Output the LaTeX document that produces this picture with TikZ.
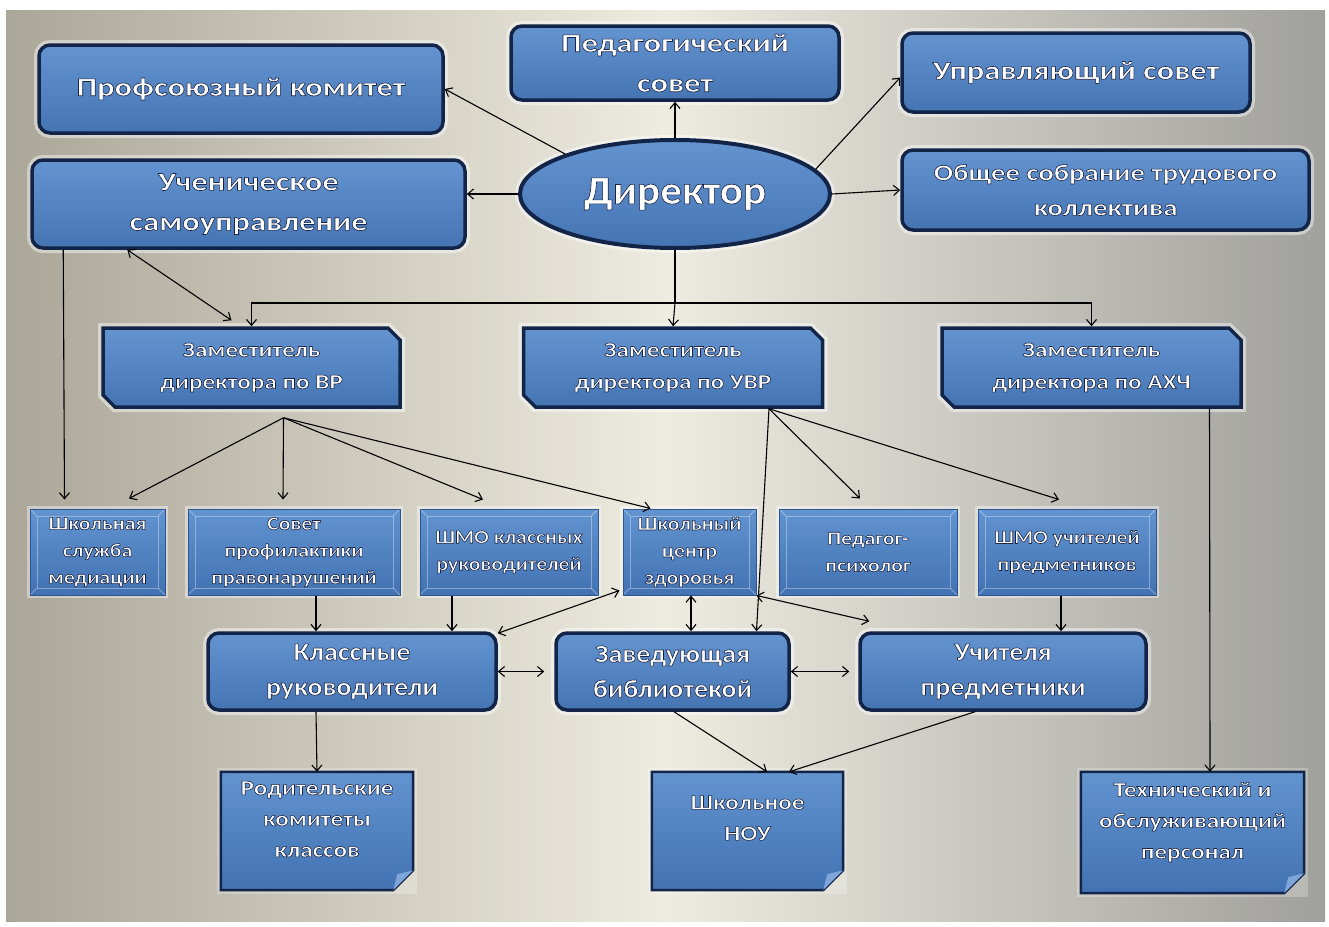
\documentclass[tikz,border=0pt]{standalone}
\usepackage{fontspec}
\setmainfont{Carlito}
\newfontfamily\fA{Carlito}[FakeStretch=1.25]
\newfontfamily\fB{Carlito}[FakeStretch=1.2]
\newfontfamily\fC{Carlito}[FakeStretch=1.15]
\newfontfamily\fD{Carlito}[FakeStretch=1.12]
\newfontfamily\fE{Carlito}[FakeStretch=1.08]
\usetikzlibrary{shapes.geometric,shapes.misc,arrows.meta,calc}
\definecolor{bgl}{RGB}{238,235,224}
\definecolor{bgd}{RGB}{170,166,152}
\definecolor{bgr}{RGB}{160,160,156}
\definecolor{navy}{RGB}{18,36,72}
\definecolor{bxl}{RGB}{100,148,208}
\definecolor{bxd}{RGB}{68,116,178}
\definecolor{sbl}{RGB}{98,148,208}
\definecolor{sbd}{RGB}{66,114,178}
\definecolor{sbe}{RGB}{45,85,145}
\definecolor{fold}{RGB}{125,165,218}
\pgfdeclarelayer{back}
\pgfdeclarelayer{bg}
\pgfsetlayers{back,bg,main}
\tikzset{
  >={Straight Barb[length=6pt,width=10pt]},
  ot/.style={execute at begin node={\special{pdf:literal direct 1 1 1 rg 0.1 0.14 0.28 RG 0.6 w 2 Tr}},
             execute at end node={\special{pdf:literal direct 0 Tr}}},
  rbox/.style={draw=navy, line width=3.5pt, rounded corners=11pt, top color=bxl, bottom color=bxd,
               align=center, inner sep=0pt, ot,
               preaction={draw=white, line width=10pt, opacity=.45},
               font={\fA\bfseries\fontsize{26}{40}\selectfont}},
  dbox/.style={ellipse, draw=navy, line width=4pt, top color=bxl, bottom color=bxd,
               inner sep=0pt, ot,
               preaction={draw=white, line width=10pt, opacity=.45},
               font={\fE\bfseries\fontsize{40}{48}\selectfont}},
  zbox/.style={chamfered rectangle, chamfered rectangle corners={north east,south west},
               chamfered rectangle xsep=6pt, chamfered rectangle ysep=6pt,
               draw=navy, line width=3.5pt, top color=bxl, bottom color=bxd,
               align=center, inner sep=0pt, ot,
               preaction={draw=white, line width=10pt, opacity=.45},
               font={\fB\bfseries\fontsize{21}{32}\selectfont}},
  sbox/.style={draw=sbe, line width=1pt, top color=sbl, bottom color=sbd,
               align=center, inner sep=0pt, ot,
               preaction={draw=white, line width=6pt, opacity=.4},
               path picture={
                 \draw[white, opacity=.35, line width=1pt]
                   ([xshift=7pt,yshift=-7pt]path picture bounding box.north west) rectangle
                   ([xshift=-7pt,yshift=7pt]path picture bounding box.south east);
                 \draw[white, opacity=.35, line width=1pt]
                   (path picture bounding box.north west) -- ([xshift=7pt,yshift=-7pt]path picture bounding box.north west)
                   (path picture bounding box.north east) -- ([xshift=-7pt,yshift=-7pt]path picture bounding box.north east)
                   (path picture bounding box.south west) -- ([xshift=7pt,yshift=7pt]path picture bounding box.south west)
                   (path picture bounding box.south east) -- ([xshift=-7pt,yshift=7pt]path picture bounding box.south east);},
               font={\fC\bfseries\fontsize{19}{27}\selectfont}},
  fbox/.style={align=center, inner sep=0pt, ot, text depth=24pt,
               font={\fB\bfseries\fontsize{21}{31}\selectfont}},
  con/.style={draw=black, line width=1.1pt, ->},
  dcon/.style={draw=black, line width=1.1pt, <->},
  ln/.style={draw=black, line width=1.1pt},
}
\begin{document}
\begin{tikzpicture}[x=1pt,y=-1pt]
\useasboundingbox (0,0) rectangle (1329,926);
\begin{pgfonlayer}{back}
\fill[white] (0,0) rectangle (1329,926);
\shade[left color=bgd, right color=bgr, middle color=bgl] (6,10) rectangle (1325,921);
\end{pgfonlayer}

% top level
\node[rbox, minimum width=404pt, minimum height=88pt] (prof) at (241,89) {Профсоюзный комитет};
\node[rbox, minimum width=328pt, minimum height=74pt] (ped) at (675,63) {Педагогический\\совет};
\node[rbox, minimum width=348pt, minimum height=79pt] (upr) at (1076,72.5) {Управляющий совет};
\node[rbox, minimum width=433pt, minimum height=88pt] (uch) at (248.5,204) {Ученическое\\самоуправление};
\node[dbox, minimum width=310pt, minimum height=108pt] (dir) at (675,194) {Директор};
\node[rbox, minimum width=407pt, minimum height=80pt, font={\fA\bfseries\fontsize{23}{35}\selectfont}] (obs) at (1105.5,190) {Общее собрание трудового\\коллектива};

% deputies
\node[zbox, minimum width=297pt, minimum height=79pt] (zvr) at (251.5,367.5) {Заместитель\\директора по ВР};
\node[zbox, minimum width=299pt, minimum height=79pt] (zuvr) at (673,367.5) {Заместитель\\директора по УВР};
\node[zbox, minimum width=299pt, minimum height=79pt] (zaxc) at (1091.5,367.5) {Заместитель\\директора по АХЧ};

% small row
\node[sbox, minimum width=135pt, minimum height=86pt] (ssm) at (97.5,552) {Школьная\\служба\\медиации};
\node[sbox, minimum width=212pt, minimum height=86pt] (spp) at (294,552) {Совет\\профилактики\\правонарушений};
\node[sbox, minimum width=178pt, minimum height=86pt] (shmok) at (509,552) {ШМО классных\\руководителей};
\node[sbox, minimum width=133pt, minimum height=86pt] (scz) at (689.5,552) {Школьный\\центр\\здоровья};
\node[sbox, minimum width=178pt, minimum height=86pt] (pp) at (868,552) {Педагог-\\психолог};
\node[sbox, minimum width=178pt, minimum height=86pt] (shmou) at (1067,552) {ШМО учителей\\предметников};

% third row
\node[rbox, minimum width=288pt, minimum height=77pt, font={\fD\bfseries\fontsize{25}{35}\selectfont}] (kr) at (352,671.5) {Классные\\руководители};
\node[rbox, minimum width=233pt, minimum height=77pt, font={\fD\bfseries\fontsize{25}{35}\selectfont}] (zb) at (672.5,671.5) {Заведующая\\библиотекой};
\node[rbox, minimum width=286pt, minimum height=77pt, font={\fD\bfseries\fontsize{25}{35}\selectfont}] (up) at (1003,671.5) {Учителя\\предметники};

% bottom row (folded corner notes)
\node[fbox, minimum width=192pt, minimum height=118pt] (rk) at (317,831) {Родительские\\комитеты\\классов};
\node[fbox, minimum width=191pt, minimum height=118pt, text depth=26pt] (nou) at (747.5,831) {Школьное\\НОУ};
\node[fbox, minimum width=223pt, minimum height=121pt] (tech) at (1192.5,832.5) {Технический и\\обслуживающий\\персонал};

\begin{pgfonlayer}{bg}
\foreach \n in {rk,nou,tech}{
  \fill[white, opacity=.25] ([xshift=-4pt,yshift=4pt]\n.north west) rectangle ([xshift=4pt,yshift=-4pt]\n.south east);
  \draw[navy, line width=2.5pt, top color=sbl, bottom color=sbd]
    (\n.north west) -- (\n.north east) -- ([yshift=20pt]\n.south east)
    -- ([xshift=-20pt]\n.south east) -- (\n.south west) -- cycle;
  \fill[fold] ([yshift=20pt]\n.south east) -- ([xshift=-20pt]\n.south east)
    -- ([xshift=-16pt,yshift=16pt]\n.south east) -- cycle;
}
\end{pgfonlayer}

% director connectors
\draw[con] (dir.160) -- (prof.east);
\draw[con] (dir.north) -- (ped.south);
\draw[con] (dir.10) -- ($(upr.west)+(0,5)$);
\draw[con] (dir.east) -- (obs.west);
\draw[con] (dir.west) -- (dir.west -| uch.east);
\coordinate (bus) at ($(dir.south)+(0,53)$);
\draw[ln] (dir.south) -- (bus);
\draw[con] (bus) -| (zvr.north);
\draw[con] (bus) -| (zaxc.north);
\draw[con] (bus) -- (zuvr.north);

% student self-government
\draw[dcon] ($(uch.south west)+(97,0)$) -- ($(zvr.north)+(-20,-6)$);
\draw[con] ($(uch.south west)+(33,0)$) -- ($(ssm.north west)+(35,-9)$);

% deputy VR
\coordinate (vrs) at ($(zvr.south)+(32,9)$);
\draw[con] (vrs) -- ($(ssm.north)+(31.5,-10)$);
\draw[con] (vrs) -- ($(spp.north)+(-11,-9)$);
\draw[con] (vrs) -- ($(shmok.north)+(-26,-9)$);
\draw[con] (vrs) -- ($(scz.north west)+(28,0)$);

% deputy UVR
\coordinate (uvrs) at ($(zuvr.south)+(96,0)$);
\draw[con] (uvrs) -- ($(pp.north)+(-8,-10)$);
\draw[con] (uvrs) -- ($(shmou.north)+(-8,-9)$);
\draw[con] (uvrs) -- ($(zb.north)+(84,0)$);

% deputy AXC
\draw[con] ($(zaxc.south)+(118,0)$) -- ($(tech.north)+(17.5,0)$);

% lower connections
\draw[con] ($(spp.south)+(22,0)$) -- ($(kr.north)+(-36,0)$);
\draw[con] ($(shmok.south)+(-57,0)$) -- ($(kr.north)+(100,0)$);
\draw[dcon] ($(kr.north east)+(0,2)$) -- ($(scz.south west)+(-3,-5)$);
\draw[dcon, shorten >=10pt] (kr.east) -- (zb.west);
\draw[dcon] ($(scz.south)+(1.5,0)$) -- ($(zb.north)+(18.5,0)$);
\draw[dcon] (scz.south east) -- ($(up.north west)+(11,-10)$);
\draw[dcon, shorten >=9pt] (zb.east) -- (up.west);
\draw[con] ($(shmou.south)+(-6,0)$) -- ($(up.north)+(58,0)$);
\draw[con] ($(kr.south)+(-36,0)$) -- (rk.north);
\draw[con] ($(zb.south)+(1.5,0)$) -- ($(nou.north)+(19.5,0)$);
\draw[con] ($(up.south)+(-28,0)$) -- ($(nou.north)+(41.5,0)$);
\end{tikzpicture}
\end{document}
